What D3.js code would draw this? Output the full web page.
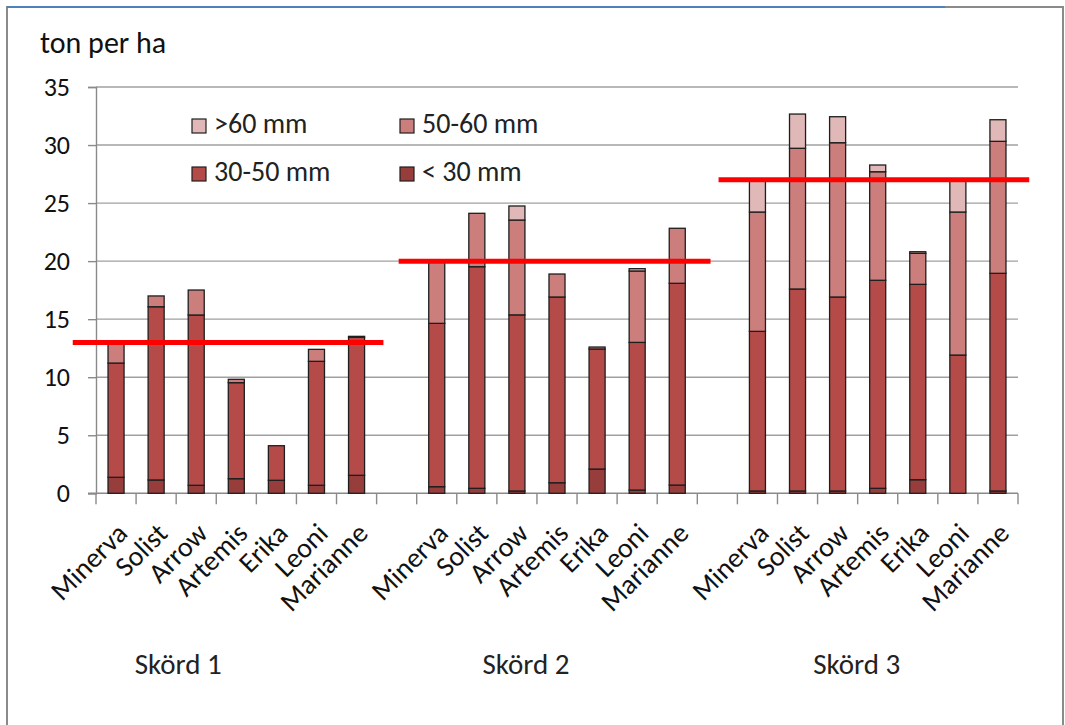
<!DOCTYPE html>
<html>
<head>
<meta charset="utf-8">
<script src="https://cdn.jsdelivr.net/npm/d3@7"></script>
<style>
  body { margin: 0; background: #fff; }
  svg { display: block; font-family: Carlito, Calibri, Lato, sans-serif; }
</style>
</head>
<body>
<svg id="chart" width="1065" height="725"></svg>
<script>
// harvest groups and varieties
const groups = ["Skörd 1", "Skörd 2", "Skörd 3"];
const varieties = ["Minerva", "Solist", "Arrow", "Artemis", "Erika", "Leoni", "Marianne"];

// ton per ha, one row per group, one value per variety
const under30 = [
    [1.38, 1.15, 0.69, 1.26, 1.12, 0.69, 1.55],
    [0.57, 0.43, 0.20, 0.91, 2.09, 0.28, 0.71],
    [0.20, 0.20, 0.20, 0.43, 1.17, 0.00, 0.20]
];
const mm30to50 = [
    [9.84, 14.92, 14.67, 8.27, 2.98, 10.68, 11.89],
    [14.07, 19.09, 15.17, 16.00, 10.34, 12.72, 17.38],
    [13.75, 17.40, 16.71, 17.92, 16.83, 11.91, 18.75]
];
const mm50to60 = [
    [1.78, 0.93, 2.15, 0.29, 0.00, 1.03, 0.08],
    [5.36, 4.60, 8.17, 1.98, 0.17, 6.15, 4.74],
    [10.28, 12.12, 13.29, 9.35, 2.67, 12.32, 11.37]
];
const over60 = [
    [0, 0, 0, 0, 0, 0, 0],
    [0, 0, 1.21, 0, 0, 0.20, 0],
    [2.77, 2.95, 2.24, 0.58, 0.14, 2.77, 1.86]
];
// red reference level per group
const targets = [13, 20, 27];
const yTicks = [0, 5, 10, 15, 20, 25, 30, 35];

const seriesNames = ["< 30 mm", "30-50 mm", "50-60 mm", ">60 mm"];
const seriesData = [under30, mm30to50, mm50to60, over60];
const colors = ["#973d3b", "#b54b49", "#cc7e7d", "#e0b8b7"];

const svg = d3.select("#chart");
const fontSize = 28;

const plot = { left: 96, right: 1018, top: 87, bottom: 493.3 };

// slot keys, with an empty slot between the groups
const slots = [];
groups.forEach((g, gi) => {
    if (gi > 0) slots.push("gap" + gi);
    varieties.forEach(v => slots.push(gi + "|" + v));
});

const x = d3.scaleBand()
    .domain(slots)
    .range([plot.left, plot.right])
    .paddingInner(0.6)
    .paddingOuter(0.3);
const step = x.step();
const slotStart = k => x(k) - step * 0.3;

const y = d3.scaleLinear().domain([0, 35]).range([plot.bottom, plot.top]);

// outer frame
svg.append("rect")
    .attr("x", 7).attr("y", 7).attr("width", 1056).attr("height", 740)
    .attr("fill", "#fff").attr("stroke", "#8a8a8a").attr("stroke-width", 2);
svg.append("line")
    .attr("x1", 7).attr("x2", 945).attr("y1", 7).attr("y2", 7)
    .attr("stroke", "#4f81bd").attr("stroke-width", 2);

// gridlines
svg.append("g")
    .selectAll("line")
    .data(yTicks.filter(t => t > 0))
    .join("line")
    .attr("x1", plot.left).attr("x2", plot.right)
    .attr("y1", d => y(d)).attr("y2", d => y(d))
    .attr("stroke", "#a0a0a0").attr("stroke-width", 1.4);

// y axis
const yAxis = svg.append("g")
    .attr("transform", `translate(${plot.left},0)`)
    .call(d3.axisLeft(y).tickValues(yTicks).tickSize(8).tickPadding(18));
yAxis.select(".domain").attr("stroke", "#8a8a8a").attr("stroke-width", 1.4);
yAxis.selectAll(".tick line").attr("stroke", "#8a8a8a").attr("stroke-width", 1.4);
yAxis.selectAll(".tick text")
    .attr("font-size", 26).attr("fill", "#111")
    .attr("font-family", "Carlito, Calibri, Lato, sans-serif");

// x axis line and slot boundary ticks
const xg = svg.append("g");
xg.append("line")
    .attr("x1", plot.left - 8).attr("x2", plot.right)
    .attr("y1", plot.bottom).attr("y2", plot.bottom)
    .attr("stroke", "#8a8a8a").attr("stroke-width", 1.4);
xg.selectAll("line.tick")
    .data(slots.map(slotStart).concat([plot.right]))
    .join("line")
    .attr("class", "tick")
    .attr("x1", d => d).attr("x2", d => d)
    .attr("y1", plot.bottom).attr("y2", plot.bottom + 11)
    .attr("stroke", "#8a8a8a").attr("stroke-width", 1.4);

// stacked bars
const segments = [];
groups.forEach((g, gi) => {
    varieties.forEach((v, vi) => {
        let base = 0;
        seriesData.forEach((s, si) => {
            const val = s[gi][vi];
            if (val > 0) segments.push({ key: gi + "|" + v, si, y0: base, y1: base + val });
            base += val;
        });
    });
});

svg.append("g")
    .selectAll("rect")
    .data(segments)
    .join("rect")
    .attr("x", d => x(d.key))
    .attr("width", x.bandwidth())
    .attr("y", d => y(d.y1))
    .attr("height", d => y(d.y0) - y(d.y1))
    .attr("fill", d => colors[d.si])
    .attr("stroke", "#1e1e1e")
    .attr("stroke-width", 1.3);

// red target lines, spans in slot units relative to the first slot of each group
const spans = [[-0.58, 7.17], [-0.45, 7.33], [-0.47, 7.28]];
svg.append("g")
    .selectAll("line")
    .data(targets)
    .join("line")
    .attr("x1", (d, i) => slotStart(i + "|" + varieties[0]) + spans[i][0] * step)
    .attr("x2", (d, i) => slotStart(i + "|" + varieties[0]) + spans[i][1] * step)
    .attr("y1", d => y(d)).attr("y2", d => y(d))
    .attr("stroke", "#ff0000").attr("stroke-width", 5);

// category labels
svg.append("g")
    .selectAll("text")
    .data(slots.filter(k => !k.startsWith("gap")))
    .join("text")
    .attr("transform", k => `translate(${x(k) + x.bandwidth() / 2 + 13},535) rotate(-45)`)
    .attr("text-anchor", "end")
    .attr("font-size", fontSize)
    .attr("fill", "#111")
    .text(k => k.split("|")[1]);

// group labels
const groupOffsets = [-58, -31, -21];
svg.append("g")
    .selectAll("text")
    .data(groups)
    .join("text")
    .attr("x", (g, i) => {
        const first = x(i + "|" + varieties[0]);
        const last = x(i + "|" + varieties[varieties.length - 1]);
        return (first + last + x.bandwidth()) / 2 + groupOffsets[i];
    })
    .attr("y", 674)
    .attr("text-anchor", "middle")
    .attr("font-size", 29)
    .attr("fill", "#222")
    .text(d => d);

// unit title
svg.append("text")
    .attr("x", 40).attr("y", 53)
    .attr("font-size", 30)
    .attr("fill", "#111")
    .text("ton per ha");

// legend
const legendOrder = [3, 2, 1, 0];
const legend = svg.append("g")
    .selectAll("g")
    .data(legendOrder)
    .join("g")
    .attr("transform", (d, i) => `translate(${192 + (i % 2) * 208},${119 + Math.floor(i / 2) * 48})`);
legend.append("rect")
    .attr("width", 14).attr("height", 14)
    .attr("fill", d => colors[d])
    .attr("stroke", "#1e1e1e").attr("stroke-width", 1.2);
legend.append("text")
    .attr("x", 22).attr("y", 14)
    .attr("font-size", fontSize)
    .attr("fill", "#222")
    .text(d => seriesNames[d]);
</script>
</body>
</html>
